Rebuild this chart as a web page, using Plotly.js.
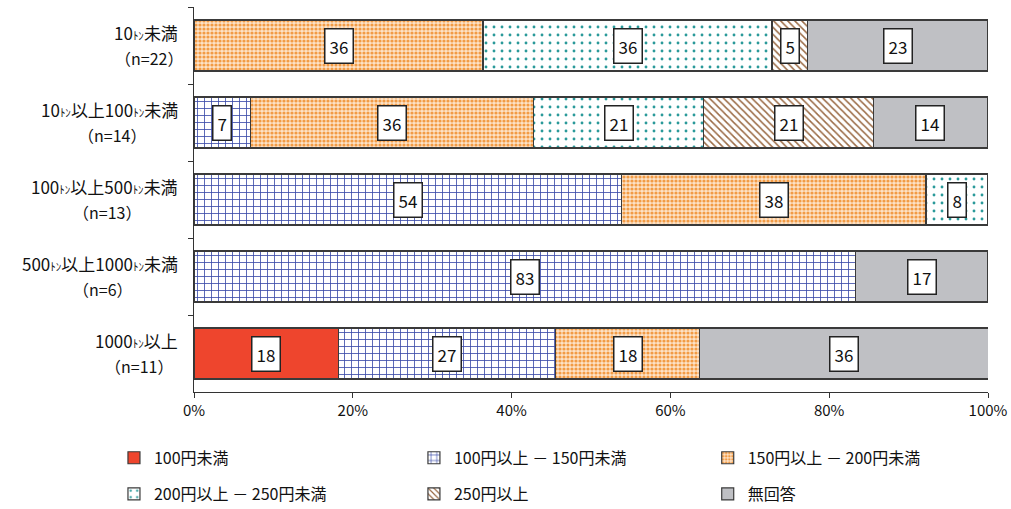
<!DOCTYPE html>
<html>
<head>
<meta charset="utf-8">
<script src="https://cdn.plot.ly/plotly-3.0.1.min.js"></script>
<style>html,body{margin:0;padding:0;background:#fff;}#chart{width:1011px;height:509px;}</style>
</head>
<body>
<div id="chart"></div>
<script>
const categories = ["10ﾄﾝ未満", "10ﾄﾝ以上100ﾄﾝ未満", "100ﾄﾝ以上500ﾄﾝ未満", "500ﾄﾝ以上1000ﾄﾝ未満", "1000ﾄﾝ以上"];
const sampleSizes = [22, 14, 13, 6, 11];
const seriesNames = ["100円未満", "100円以上 － 150円未満", "150円以上 － 200円未満", "200円以上 － 250円未満", "250円以上", "無回答"];
const under100 = [0, 0, 0, 0, 18.2];
const from100to150 = [0, 7.1, 53.8, 83.3, 27.3];
const from150to200 = [36.4, 35.7, 38.4, 0, 18.2];
const from200to250 = [36.4, 21.4, 7.8, 0, 0];
const over250 = [4.5, 21.4, 0, 0, 0];
const noAnswer = [22.7, 14.3, 0, 16.7, 36.4];
const xTickVals = [0, 20, 40, 60, 80, 100];
const xTickText = ["0%", "20%", "40%", "60%", "80%", "100%"];

const series = [under100, from100to150, from150to200, from200to250, over250, noAnswer];
const FONT = "'Noto Sans CJK JP', 'Noto Sans', sans-serif";

const styles = [
  {color: "#ee452d", pattern: {shape: ""}},
  {color: "#ffffff", pattern: {shape: "+", fgcolor: "#3a4aa8", bgcolor: "#ffffff", size: 7, solidity: 0.22, fillmode: "replace"}},
  {color: "#ffffff", pattern: {shape: ".", fgcolor: "#f29b45", bgcolor: "#fde3c8", size: 4, solidity: 0.5, fillmode: "replace"}},
  {color: "#ffffff", pattern: {shape: ".", fgcolor: "#2a9a9a", bgcolor: "#ffffff", size: 8, solidity: 0.1, fillmode: "replace"}},
  {color: "#ffffff", pattern: {shape: "\\", fgcolor: "#9a6a44", bgcolor: "#ffffff", size: 5, solidity: 0.3, fillmode: "replace"}},
  {color: "#bfc0c4", pattern: {shape: ""}}
];

const catLabel = c => c.replace(/ﾄﾝ/g, "<span style='font-size:11px'>ﾄﾝ</span>");

const legendIds = ["legend", "legend2", "legend3", "legend4", "legend5", "legend6"];

const traces = series.map((vals, i) => ({
  type: "bar",
  orientation: "h",
  name: seriesNames[i],
  y: categories,
  x: vals,
  marker: {color: styles[i].color, pattern: styles[i].pattern, line: {color: "#3a3a3a", width: 1.2}},
  width: 0.66,
  hoverinfo: "skip",
  legend: legendIds[i],
  showlegend: true
}));

const annotations = [];
categories.forEach((c, ci) => {
  let cum = 0;
  series.forEach(vals => {
    const v = vals[ci];
    if (v > 0) {
      annotations.push({
        x: cum + v / 2, y: c, xref: "x", yref: "y",
        text: String(Math.round(v)), showarrow: false,
        font: {family: FONT, size: 17, color: "#111"},
        bgcolor: "#ffffff", bordercolor: "#222", borderwidth: 1.5, borderpad: 4
      });
    }
    cum += v;
  });
  annotations.push({
    x: 0, xref: "paper", y: c, yref: "y", xanchor: "right", xshift: -14, yshift: 13,
    text: catLabel(c), showarrow: false,
    font: {family: FONT, size: 17, color: "#111"}
  });
  annotations.push({
    x: 0, xref: "paper", y: c, yref: "y", xanchor: "center", xshift: -14, yshift: -12,
    text: "（n=" + sampleSizes[ci] + "）", showarrow: false,
    font: {family: FONT, size: 16, color: "#111"}
  });
});

// center the second line under the first line (computed after render)
const colX = [-0.1008, 0.277, 0.647];
const rowY = [-0.171, -0.265];
const legendBase = {
  orientation: "h", xanchor: "left", yanchor: "middle",
  font: {family: FONT, size: 16, color: "#111"}, bgcolor: "rgba(0,0,0,0)"
};

const layout = {
  width: 1011, height: 509,
  margin: {l: 194, r: 23, t: 7, b: 117, autoexpand: false},
  paper_bgcolor: "#ffffff", plot_bgcolor: "#ffffff",
  barmode: "stack",
  font: {family: FONT, size: 14, color: "#111"},
  xaxis: {
    range: [0, 100], tickvals: xTickVals, ticktext: xTickText,
    showgrid: false, zeroline: false, showline: true, linecolor: "#333", linewidth: 1,
    ticks: "outside", ticklen: 5, tickcolor: "#333",
    tickfont: {family: FONT, size: 15}, fixedrange: true
  },
  yaxis: {
    type: "category", autorange: "reversed", showticklabels: false,
    showgrid: false, zeroline: false, showline: true, linecolor: "#333", linewidth: 1,
    ticks: "outside", ticklen: 5, tickcolor: "#333", tickson: "boundaries", fixedrange: true
  },
  annotations: annotations
};
legendIds.forEach((id, i) => {
  layout[id] = Object.assign({}, legendBase, {x: colX[i % 3], y: rowY[Math.floor(i / 3)]});
});

Plotly.newPlot("chart", traces, layout, {staticPlot: true, displayModeBar: false}).then(gd => {
  // measure first-line widths so that the (n=..) line is centred beneath it
  const nodes = gd.querySelectorAll(".annotation");
  const updates = {};
  let k = 0;
  gd.layout.annotations.forEach((a, idx) => {
    if (a.xanchor === "right" && a.yshift === 13) {
      const bb = nodes[idx].getBoundingClientRect();
      updates["annotations[" + (idx + 1) + "].xshift"] = -14 - bb.width / 2 + 2;
    }
  });
  return Plotly.relayout(gd, updates);
});
</script>
</body>
</html>
